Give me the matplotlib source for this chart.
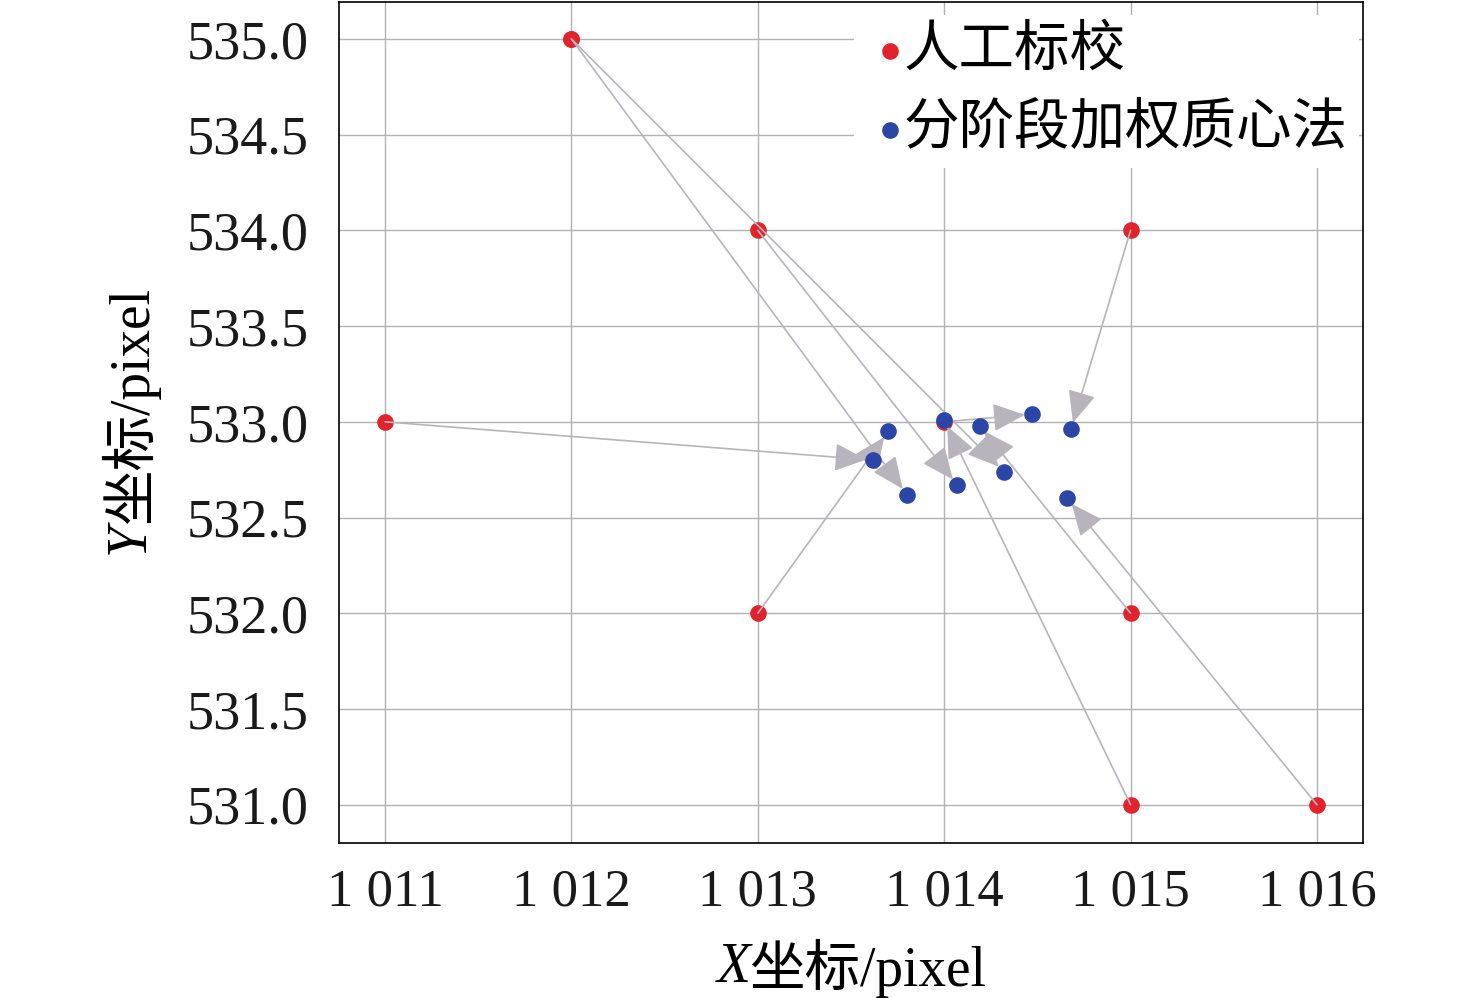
import matplotlib
matplotlib.use('Agg')
import matplotlib.pyplot as plt

# manual calibration points (start of each arrow)
manual_x = [1011, 1013, 1012, 1015, 1015, 1014, 1015, 1016, 1013, 1012]
manual_y = [533.0, 532.0, 535.0, 531.0, 532.0, 533.0, 534.0, 531.0, 534.0, 535.0]

# staged weighted centroid results (end of each arrow)
centroid_x = [1013.62, 1013.70, 1013.80, 1014.00, 1014.19, 1014.47, 1014.68, 1014.66, 1014.07, 1014.32]
centroid_y = [532.80, 532.95, 532.62, 533.01, 532.98, 533.04, 532.96, 532.60, 532.67, 532.74]

x_ticks = [1011, 1012, 1013, 1014, 1015, 1016]
x_ticklabels = ['1 011', '1 012', '1 013', '1 014', '1 015', '1 016']
y_ticks = [531.0, 531.5, 532.0, 532.5, 533.0, 533.5, 534.0, 534.5, 535.0]

fonts = ['Liberation Serif', 'Noto Sans CJK SC']
plt.rcParams['font.family'] = fonts

fig = plt.figure(figsize=(14.76, 9.98), dpi=100)
ax = fig.add_axes([339/1476, 1 - 843/998, (1363-339)/1476, (843-2)/998])

ax.set_xlim(1010.753, 1016.247)
ax.set_ylim(530.80, 535.193)

ax.grid(True, color='#b4b0b4', lw=1)
ax.set_axisbelow(True)

ax.scatter(manual_x, manual_y, s=120, color='#e3232c', zorder=2, label='人工标校')

for i in range(len(manual_x)):
    ax.annotate('', xy=(centroid_x[i], centroid_y[i]), xytext=(manual_x[i], manual_y[i]),
                arrowprops=dict(arrowstyle='-|>,head_length=0.8,head_width=0.35',
                                color='#b8b4bc', lw=1.2, mutation_scale=25,
                                shrinkA=0, shrinkB=5), zorder=3)

ax.scatter(centroid_x, centroid_y, s=120, color='#2b46a6', zorder=4, label='分阶段加权质心法')

ax.set_xticks(x_ticks)
ax.set_xticklabels(x_ticklabels)
ax.set_yticks(y_ticks)
ax.set_yticklabels(['%.1f' % v for v in y_ticks])
ax.tick_params(length=0, colors='#1a1a1a')
ax.tick_params(axis='x', pad=18, labelsize=38)
ax.tick_params(axis='y', pad=22, labelsize=39)

for s in ax.spines.values():
    s.set_color('black')
    s.set_linewidth(1.2)

leg = ax.legend(loc='upper right', bbox_to_anchor=(0.996, 0.985), fontsize=40, frameon=True,
                facecolor='white', edgecolor='none', framealpha=1, handletextpad=-0.2,
                handlelength=0.9, borderaxespad=0.0, borderpad=0.2, labelspacing=0.48,
                markerscale=1.0)
leg.get_frame().set_boxstyle('square', pad=0)

# axis labels: italic letter + CJK/serif rest, placed piece by piece
renderer = fig.canvas.get_renderer()
lab_size = 40

t1 = fig.text(0, 0, 'X', fontsize=lab_size, style='italic', family='Liberation Serif')
t2 = fig.text(0, 0, '坐标/pixel', fontsize=lab_size, family=fonts)
w1 = t1.get_window_extent(renderer).width
w2 = t2.get_window_extent(renderer).width
cx, cy = 852, 998 - 962
x0 = cx - (w1 + w2) / 2
t1.set_position((x0 / 1476, cy / 998))
t1.set_va('center_baseline')
t2.set_position(((x0 + w1) / 1476, cy / 998))
t2.set_va('center_baseline')

t3 = fig.text(0, 0, 'Y', fontsize=lab_size, style='italic', family='Liberation Serif', rotation=90)
t4 = fig.text(0, 0, '坐标/pixel', fontsize=lab_size, family=fonts, rotation=90)
h3 = t3.get_window_extent(renderer).height
h4 = t4.get_window_extent(renderer).height
cx, cy = 130, 998 - 420
y0 = cy - (h3 + h4) / 2
t3.set_position((cx / 1476, y0 / 998))
t3.set_ha('center')
t3.set_va('bottom')
t4.set_position((cx / 1476, (y0 + h3) / 998))
t4.set_ha('center')
t4.set_va('bottom')

plt.savefig('out.png', dpi=100)
